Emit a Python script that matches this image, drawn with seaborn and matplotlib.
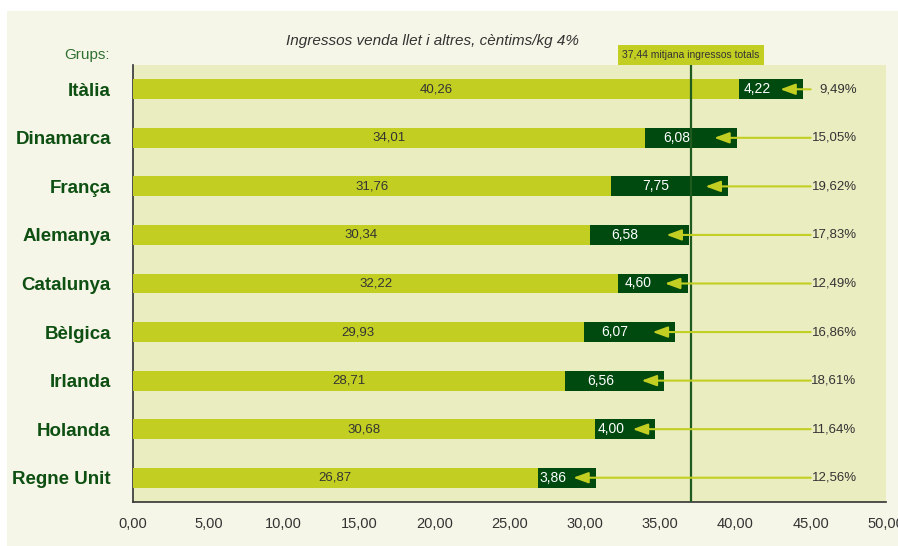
import matplotlib
matplotlib.use("Agg")
import matplotlib.pyplot as plt
import matplotlib.transforms as mtransforms
from matplotlib.patches import Rectangle
from matplotlib import font_manager
import seaborn as sns
import pandas as pd

# data
groups = ["Itàlia", "Dinamarca", "França", "Alemanya", "Catalunya",
          "Bèlgica", "Irlanda", "Holanda", "Regne Unit"]
base = [40.26, 34.01, 31.76, 30.34, 32.22, 29.93, 28.71, 30.68, 26.87]
others = [4.22, 6.08, 7.75, 6.58, 4.60, 6.07, 6.56, 4.00, 3.86]
pct = ["9,49%", "15,05%", "19,62%", "17,83%", "12,49%",
       "16,86%", "18,61%", "11,64%", "12,56%"]
mean_text = "37,44 mitjana ingressos totals"
mean_pos = 37.05
xticks = [0, 5, 10, 15, 20, 25, 30, 35, 40, 45, 50]

light = "#C2CF22"
dark = "#004A10"
plot_bg = "#EAEDC0"
fig_bg = "#F6F6E8"
txt = "#333333"

df = pd.DataFrame({"group": groups, "base": base, "others": others})
df["total"] = df["base"] + df["others"]

sns.set_style("white")
plt.rcParams["font.family"] = ["Liberation Sans", "DejaVu Sans"]
names = {f.name for f in font_manager.fontManager.ttflist}
narrow = ["Liberation Sans Narrow"] if "Liberation Sans Narrow" in names else ["Liberation Sans"]

fig = plt.figure(figsize=(8.98, 5.46), dpi=100, facecolor="white")
fig.patches.append(Rectangle((7 / 898, 0), 1, 1 - 11 / 546, transform=fig.transFigure,
                             facecolor=fig_bg, edgecolor="none", zorder=-10))
ax = fig.add_axes([133 / 898, 1 - 502 / 546, (886 - 133) / 898, (502 - 65) / 546])
ax.set_facecolor(plot_bg)

# total bar in dark, base bar drawn over it in light
sns.barplot(data=df, x="total", y="group", color=dark, width=0.41,
            saturation=1, linewidth=0, ax=ax, zorder=2)
sns.barplot(data=df, x="base", y="group", color=light, width=0.41,
            saturation=1, linewidth=0, ax=ax, zorder=3)

ax.axvline(mean_pos, color="#1F5A1F", lw=1.6, zorder=4)
trans = mtransforms.blended_transform_factory(ax.transData, ax.transAxes)
trans = mtransforms.offset_copy(trans, fig=fig, y=5, units="dots")
ax.text(mean_pos, 1.0, mean_text, transform=trans,
        ha="center", va="bottom", fontsize=7.5, color=txt,
        bbox=dict(boxstyle="square,pad=0.45", facecolor=light, edgecolor="none"))

for i, row in df.iterrows():
    tip = row["total"] - 1.5
    ax.text(row["base"] / 2, i, f"{row['base']:.2f}".replace(".", ","),
            ha="center", va="center", fontsize=9.5, color=txt, zorder=6)
    ax.text((row["base"] + tip) / 2 - 0.2, i, f"{row['others']:.2f}".replace(".", ","),
            ha="center", va="center", fontsize=10, color="white", zorder=6)
    ax.annotate("", xy=(tip, i), xytext=(45.0, i),
                arrowprops=dict(arrowstyle="-|>,head_length=0.9,head_width=0.33",
                                color=light, lw=1.5, shrinkA=0, shrinkB=0),
                zorder=5)
    ax.text(48.05, i, pct[i], ha="right", va="center", fontsize=9.5, color=txt, zorder=6)

ax.set_xlim(0, 50)
ax.set_ylim(8.5, -0.5)
ax.set_xticks(xticks)
ax.set_xticklabels([f"{v:.2f}".replace(".", ",") for v in xticks], fontsize=10.5,
                   color=txt, family=narrow)
ax.set_yticks(range(len(groups)))
ax.set_yticklabels(groups, fontsize=13.5, fontweight="bold", color="#0E4F12")
ax.set_xlabel("")
ax.set_ylabel("")
ax.tick_params(axis="x", direction="out", length=5, width=1, color="#333333", pad=6)
ax.tick_params(axis="y", length=0, pad=16)
for s in ["top", "right"]:
    ax.spines[s].set_visible(False)
for s in ["left", "bottom"]:
    ax.spines[s].set_color("#333333")
    ax.spines[s].set_linewidth(1.2)

fig.text(432 / 898, 1 - 41 / 546, "Ingressos venda llet i altres, cèntims/kg 4%",
         ha="center", va="center", fontsize=11, style="italic", color=txt)
fig.text(110 / 898, 1 - 55 / 546, "Grups:", ha="right", va="center",
         fontsize=11, color="#2F6F2F")

fig.savefig("out.png", dpi=100, facecolor=fig.get_facecolor())
